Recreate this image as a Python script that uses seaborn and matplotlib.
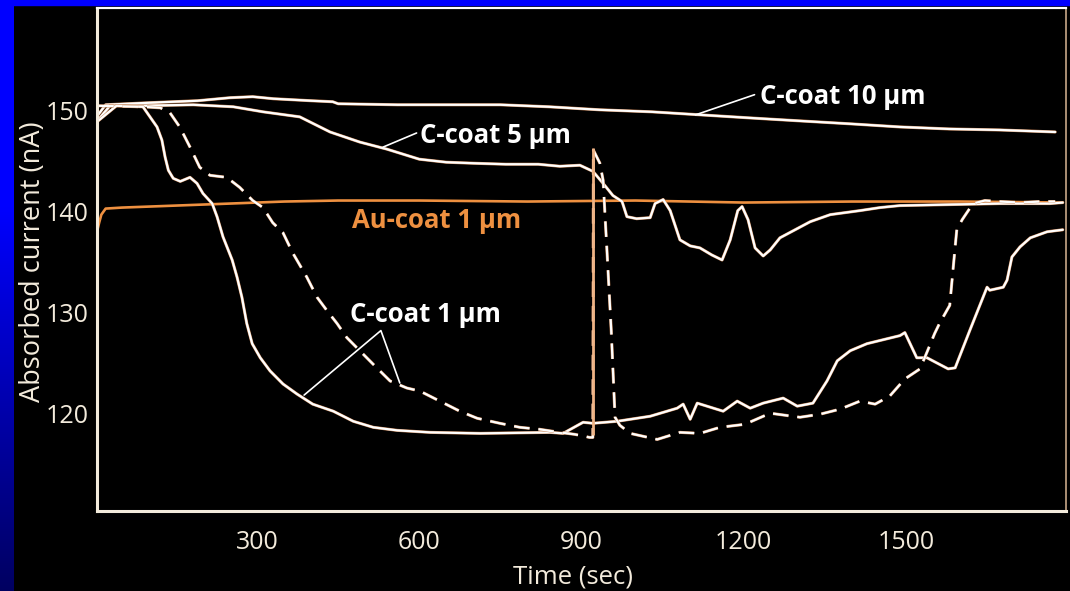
import numpy as np
import pandas as pd
import matplotlib
matplotlib.use("Agg")
import matplotlib.pyplot as plt
import matplotlib.patheffects as pe
from matplotlib.patches import Rectangle
import seaborn as sns

# ---- data: absorbed current (nA) vs time (sec) ----
c10_time = [6, 20, 100, 190, 250, 292, 330, 400, 440, 450, 560, 650, 750, 840, 934,
            1030, 1120, 1210, 1304, 1400, 1489, 1580, 1674, 1776]
c10_curr = [149.6, 150.6, 150.8, 151.0, 151.3, 151.4, 151.2, 151.0, 150.9, 150.7, 150.6,
            150.6, 150.6, 150.4, 150.1, 149.9, 149.6, 149.3, 149.0, 148.7, 148.4, 148.2,
            148.1, 147.9]

c5_time = [6, 28, 89, 182, 256, 311, 379, 435, 490, 540, 600, 650, 700, 760, 820, 860,
           897, 921, 940, 958, 975, 984, 1002, 1027, 1036, 1051, 1064, 1082, 1101, 1119,
           1141, 1160, 1175, 1189, 1197, 1208, 1221, 1236, 1249, 1267, 1295, 1323, 1360,
           1415, 1452, 1489, 1581, 1674, 1766, 1790]
c5_curr = [149.1, 150.5, 150.5, 150.6, 150.4, 149.9, 149.4, 147.9, 146.9, 146.2, 145.2,
           144.9, 144.8, 144.7, 144.7, 144.5, 144.6, 144.0, 142.8, 141.6, 141.0, 139.5,
           139.3, 139.4, 140.8, 141.2, 140.1, 137.2, 136.6, 136.4, 135.7, 135.2, 137.2,
           140.1, 140.5, 139.2, 136.4, 135.6, 136.2, 137.4, 138.2, 139.0, 139.7, 140.1,
           140.4, 140.6, 140.7, 140.8, 140.8, 140.9]

c1a_time = [6, 40, 89, 102, 115, 124, 130, 136, 145, 158, 176, 189, 200, 217, 226, 237,
            254, 263, 272, 281, 291, 306, 324, 348, 374, 403, 441, 478, 515, 559, 620,
            713, 842, 866, 903, 921, 966, 1027, 1077, 1088, 1101, 1114, 1162, 1188, 1212,
            1236, 1273, 1299, 1328, 1354, 1373, 1397, 1428, 1489, 1498, 1520, 1539, 1578,
            1591, 1618, 1650, 1655, 1680, 1687, 1696, 1711, 1730, 1761, 1790]
c1a_curr = [149.0, 150.5, 150.4, 149.4, 148.4, 147.1, 145.4, 144.1, 143.3, 143.0, 143.4,
            142.8, 141.8, 140.8, 139.5, 137.5, 135.2, 133.5, 131.5, 128.9, 126.9, 125.5,
            124.2, 122.9, 121.9, 120.9, 120.2, 119.2, 118.6, 118.3, 118.1, 118.0, 118.1,
            118.0, 119.1, 119.0, 119.2, 119.7, 120.5, 120.9, 119.4, 121.0, 120.2, 121.2,
            120.5, 121.0, 121.5, 120.7, 121.0, 123.2, 125.2, 126.2, 126.9, 127.7, 128.0,
            125.5, 125.5, 124.4, 124.5, 128.2, 132.5, 132.2, 132.5, 133.2, 135.5, 136.5,
            137.4, 138.0, 138.2]

c1b_time = [6, 89, 121, 139, 157, 176, 194, 213, 244, 268, 292, 311, 329, 348, 366, 392,
            411, 429, 448, 466, 490, 514, 546, 577, 601, 638, 675, 707, 749, 786, 823, 860,
            888, 915, 921, 922, 934, 940, 947, 955, 962, 971, 990, 1040, 1082, 1119, 1156,
            1202, 1249, 1304, 1341, 1378, 1415, 1443, 1470, 1498, 1526, 1540, 1553, 1562,
            1581, 1587, 1594, 1604, 1624, 1646, 1674, 1711, 1748, 1776]
c1b_curr = [150.5, 150.4, 150.3, 149.8, 148.4, 146.4, 144.4, 143.6, 143.4, 142.4, 141.1,
            140.4, 138.9, 137.9, 135.9, 133.5, 131.5, 130.2, 128.9, 127.5, 126.2, 124.9,
            123.2, 122.5, 122.2, 121.2, 120.2, 119.5, 119.0, 118.6, 118.4, 118.1, 117.9,
            117.6, 117.6, 146.1, 144.8, 143.1, 136.2, 128.2, 119.6, 118.8, 118.0, 117.4,
            118.1, 118.0, 118.6, 118.9, 120.0, 119.6, 119.9, 120.4, 121.2, 120.9, 121.7,
            123.4, 124.4, 126.2, 127.9, 128.9, 130.7, 134.2, 138.2, 139.2, 140.8, 141.1,
            141.0, 140.9, 141.0, 141.0]

au_time = [4, 8, 12, 20, 50, 150, 250, 350, 450, 600, 800, 1000, 1200, 1400, 1600, 1790]
au_curr = [138.0, 138.9, 139.7, 140.3, 140.4, 140.6, 140.8, 141.0, 141.1, 141.1, 141.0,
           141.1, 140.9, 141.0, 141.0, 140.9]

# vertical marker drawn at the switching time
marker_time = 921
marker_range = [117.8, 146.3]

x_ticks = [300, 600, 900, 1200, 1500]
y_ticks = [120, 130, 140, 150]

# ---- style ----
sns.set_theme(style="dark")
plt.rcParams["font.family"] = ["Open Sans", "DejaVu Sans"]

FG = "#f3ebdc"
WHITE = "#ffffff"
ORANGE = "#ee9040"
PEACH = "#efb385"
EDGE = "#c8875a"

fig = plt.figure(figsize=(10.70, 5.91), dpi=100, facecolor="black")
ax = fig.add_axes([97 / 1070, 80 / 591, 969 / 1070, 503 / 591])
ax.set_facecolor("black")


def trace(t, v, color, lw, ls="-", fringe=True, z=2):
    df = pd.DataFrame({"t": t, "v": v})
    sns.lineplot(data=df, x="t", y="v", ax=ax, color=color, linewidth=lw,
                 estimator=None, sort=False, legend=False, zorder=z)
    line = ax.lines[-1]
    line.set_linestyle(ls)
    if fringe:
        line.set_path_effects([pe.Stroke(linewidth=lw + 0.6, foreground=EDGE),
                               pe.Normal()])
    line.set_solid_joinstyle("round")
    return line


trace(au_time, au_curr, ORANGE, 1.9, fringe=False)
trace(c10_time, c10_curr, WHITE, 1.6)
trace(c5_time, c5_curr, WHITE, 1.6)
trace(c1a_time, c1a_curr, WHITE, 1.6)
trace(c1b_time, c1b_curr, WHITE, 1.6, ls=(0, (7, 4)))
ax.vlines(marker_time, marker_range[0], marker_range[1], color=PEACH,
          linewidth=2.0, zorder=4)

ax.set_xlim(4, 1796)
ax.set_ylim(110.3, 160.2)
ax.set_xticks(x_ticks)
ax.set_yticks(y_ticks)
ax.grid(False)

ax.tick_params(axis="both", direction="in", colors=FG, labelcolor=FG,
               labelsize=18, width=2.0)
ax.tick_params(axis="y", length=15, pad=6)
ax.tick_params(axis="x", length=13, pad=14)

for side in ["left", "bottom"]:
    ax.spines[side].set_color(FG)
    ax.spines[side].set_linewidth(2.2)
ax.spines["top"].set_color(WHITE)
ax.spines["top"].set_linewidth(1.6)
ax.spines["right"].set_color("#c8a888")
ax.spines["right"].set_linewidth(1.2)

ax.set_xlabel("Time (sec)", fontsize=18.5, color=FG)
ax.set_ylabel("Absorbed current (nA)", fontsize=19.5, color=FG)
ax.xaxis.label.set_va("center")
ax.yaxis.label.set_va("center")
ax.xaxis.set_label_coords(0.491, -0.131)
ax.yaxis.set_label_coords(-0.066, 0.495)

# curve labels with leader lines
bold = dict(fontsize=18.5, fontweight="bold", va="center", ha="left")
ax.text(1230, 151.4, "C-coat 10 μm", color=WHITE, **bold)
ax.plot([1111, 1220], [149.6, 151.6], color=WHITE, lw=1.2)

ax.text(601, 147.6, "C-coat 5 μm", color=WHITE, **bold)
ax.plot([533, 595], [146.4, 147.8], color=WHITE, lw=1.2)

ax.text(475, 139.1, "Au-coat 1 μm", color=ORANGE, **bold)

ax.text(472, 129.8, "C-coat 1 μm", color=WHITE, **bold)
ax.plot([387, 529, 564], [121.8, 128.2, 123.0], color=WHITE, lw=1.2)

# blue frame strips on the left and top edges
grad_ax = fig.add_axes([0, 0, 14 / 1070, 1])
grad = np.ones((256, 1, 3))
pos = np.linspace(0, 1, 256)
blue = np.where(pos < 0.35, 1.0, 1.0 - (pos - 0.35) / 0.65 * 0.62)
grad[:, 0, 0] = 0
grad[:, 0, 1] = 0
grad[:, 0, 2] = blue
grad_ax.imshow(grad, aspect="auto", extent=[0, 1, 0, 1], origin="upper")
grad_ax.set_axis_off()
fig.patches.append(Rectangle((0, 1 - 5 / 591), 1, 5 / 591, transform=fig.transFigure,
                             color="#0000ff", zorder=10))

fig.savefig("out.png", dpi=100, facecolor="black")
